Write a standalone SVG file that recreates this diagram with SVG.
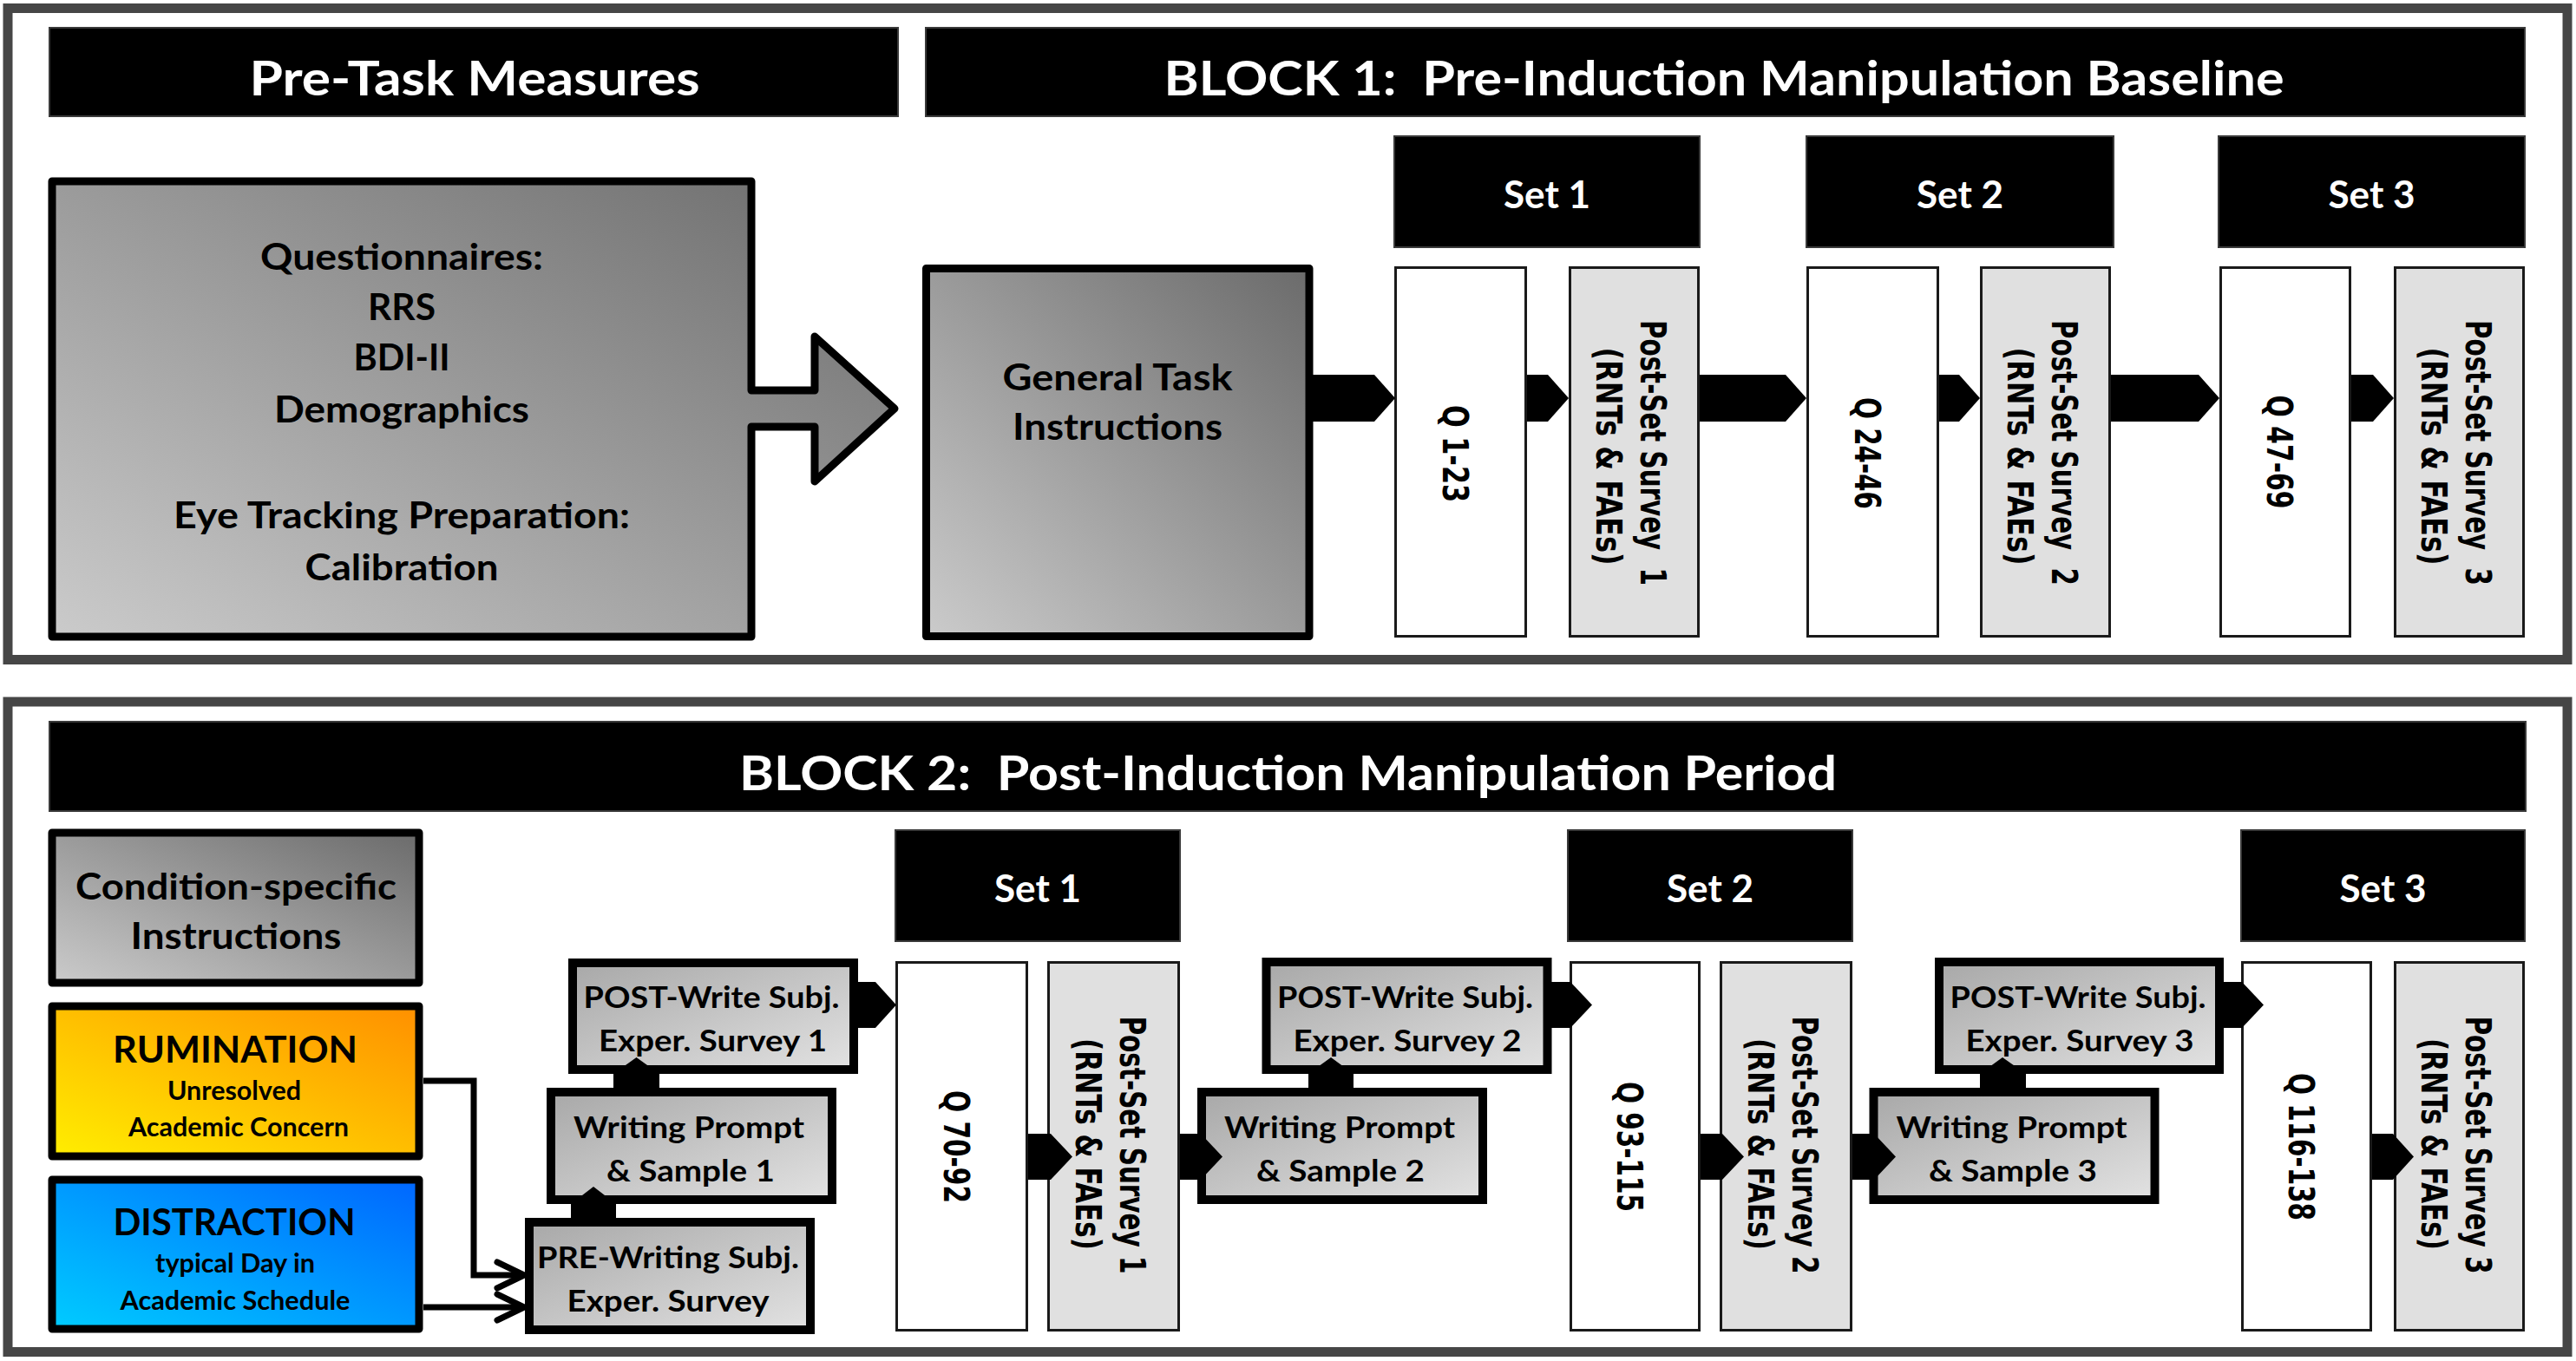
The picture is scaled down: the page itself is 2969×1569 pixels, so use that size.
<svg xmlns="http://www.w3.org/2000/svg" width="2969" height="1569" viewBox="0 0 2969 1569">
<defs>
<linearGradient id="gBig" x1="0" y1="1" x2="1" y2="0"><stop offset="0" stop-color="#cbcbcb"/><stop offset="1" stop-color="#6b6b6b"/></linearGradient>
<linearGradient id="gProc" x1="0" y1="0" x2="1" y2="1"><stop offset="0" stop-color="#a8a8a8"/><stop offset="1" stop-color="#e2e2e2"/></linearGradient>
<linearGradient id="gRum" x1="0" y1="1" x2="1" y2="0"><stop offset="0" stop-color="#ffee00"/><stop offset="1" stop-color="#ff8f00"/></linearGradient>
<linearGradient id="gDis" x1="0" y1="1" x2="1" y2="0"><stop offset="0" stop-color="#00ccff"/><stop offset="1" stop-color="#0066ff"/></linearGradient>
<marker id="chev" markerUnits="userSpaceOnUse" markerWidth="40" markerHeight="40" refX="31" refY="17" orient="auto" overflow="visible">
<path d="M0,2 L31,17 L0,32" fill="none" stroke="#000" stroke-width="7" stroke-linecap="round" stroke-linejoin="round"/>
</marker>
</defs>
<style>
.frame{fill:#fff;stroke:#464646;stroke-width:11}
.banner{fill:#000;stroke:#3a3a3a;stroke-width:2}
.bt{font-family:Lato,"Open Sans","Liberation Sans",sans-serif;font-weight:700;fill:#fff;text-anchor:middle}
.t{font-family:Lato,"Open Sans","Liberation Sans",sans-serif;font-weight:700;fill:#000;text-anchor:middle}
.big{stroke:#000;stroke-width:9;stroke-linejoin:round}
.proc{fill:url(#gProc);stroke:#000;stroke-width:10}
.q{fill:#fff;stroke:#1a1a1a;stroke-width:3}
.ps{fill:#e0e0e0;stroke:#1a1a1a;stroke-width:3}
.rt{font-family:"DejaVu Sans",Verdana,sans-serif;font-weight:700;font-size:41px;fill:#000;text-anchor:middle}
.blk{fill:#000}
.ln{fill:none;stroke:#000;stroke-width:7;stroke-linejoin:miter}
</style>
<rect width="2969" height="1569" fill="#fff"/>
<g id="frames">
<rect class="frame" x="9" y="9.5" width="2950" height="751"/>
<rect class="frame" x="9" y="809" width="2950" height="749.5"/>
</g>
<g id="banners">
<g id="pretask-banner"><rect class="banner" x="57" y="32" width="978" height="102"/><text class="bt" x="547" y="110" font-size="55" textLength="519" lengthAdjust="spacingAndGlyphs">Pre-Task Measures</text></g>
<g id="block1-banner"><rect class="banner" x="1067" y="32" width="1843" height="102"/><text class="bt" x="1987" y="110" font-size="55" textLength="1291" lengthAdjust="spacingAndGlyphs" xml:space="preserve">BLOCK 1:  Pre-Induction Manipulation Baseline</text></g>
<g id="block2-banner"><rect class="banner" x="57" y="832" width="2854" height="103"/><text class="bt" x="1484.5" y="911" font-size="55" textLength="1265" lengthAdjust="spacingAndGlyphs" xml:space="preserve">BLOCK 2:  Post-Induction Manipulation Period</text></g>
<g id="b1-set1"><rect class="banner" x="1607" y="157" width="352" height="128"/><text class="bt" x="1783" y="240" font-size="43" textLength="100" lengthAdjust="spacingAndGlyphs">Set 1</text></g>
<g id="b1-set2"><rect class="banner" x="2082" y="157" width="354" height="128"/><text class="bt" x="2259" y="240" font-size="43" textLength="100" lengthAdjust="spacingAndGlyphs">Set 2</text></g>
<g id="b1-set3"><rect class="banner" x="2557" y="157" width="353" height="128"/><text class="bt" x="2733.5" y="240" font-size="43" textLength="100" lengthAdjust="spacingAndGlyphs">Set 3</text></g>
<g id="b2-set1"><rect class="banner" x="1032" y="957" width="328" height="128"/><text class="bt" x="1196" y="1040" font-size="43" textLength="100" lengthAdjust="spacingAndGlyphs">Set 1</text></g>
<g id="b2-set2"><rect class="banner" x="1807" y="957" width="328" height="128"/><text class="bt" x="1971" y="1040" font-size="43" textLength="100" lengthAdjust="spacingAndGlyphs">Set 2</text></g>
<g id="b2-set3"><rect class="banner" x="2583" y="957" width="327" height="128"/><text class="bt" x="2746.5" y="1040" font-size="43" textLength="100" lengthAdjust="spacingAndGlyphs">Set 3</text></g>
</g>
<g id="pretask">
<path class="big" fill="url(#gBig)" d="M60,209 H866 V450 H939 V388 L1031,471 L939,555 V492 H866 V734 H60 Z"/>
<text class="t" x="463" y="311" font-size="42" textLength="326" lengthAdjust="spacingAndGlyphs">Questionnaires:</text>
<text class="t" x="463" y="369" font-size="42" textLength="78" lengthAdjust="spacingAndGlyphs">RRS</text>
<text class="t" x="463" y="427" font-size="42" textLength="111" lengthAdjust="spacingAndGlyphs">BDI-II</text>
<text class="t" x="463" y="487" font-size="42" textLength="294" lengthAdjust="spacingAndGlyphs">Demographics</text>
<text class="t" x="463" y="609" font-size="42" textLength="526" lengthAdjust="spacingAndGlyphs">Eye Tracking Preparation:</text>
<text class="t" x="463" y="669" font-size="42" textLength="223" lengthAdjust="spacingAndGlyphs">Calibration</text>
</g>
<g id="general">
<rect class="big" fill="url(#gBig)" x="1067.5" y="309.5" width="441.5" height="424"/>
<text class="t" x="1288" y="450" font-size="42" textLength="265" lengthAdjust="spacingAndGlyphs">General Task</text>
<text class="t" x="1288" y="507" font-size="42" textLength="242" lengthAdjust="spacingAndGlyphs">Instructions</text>
</g>
<g id="b1-q1"><rect class="q" x="1608.5" y="308.5" width="150" height="425"/><text class="rt" transform="translate(1662.5,523) rotate(90)" textLength="112" lengthAdjust="spacingAndGlyphs">Q 1-23</text></g>
<g id="b1-ps1"><rect class="ps" x="1809.5" y="308.5" width="148" height="425"/><text class="rt" transform="translate(1890.5,522) rotate(90)" textLength="306" lengthAdjust="spacingAndGlyphs" xml:space="preserve">Post-Set Survey  1</text><text class="rt" transform="translate(1839.5,526) rotate(90)" textLength="251" lengthAdjust="spacingAndGlyphs">(RNTs &amp; FAEs)</text></g>
<g id="b1-q2"><rect class="q" x="2083.5" y="308.5" width="150" height="425"/><text class="rt" transform="translate(2137.5,522.5) rotate(90)" textLength="129" lengthAdjust="spacingAndGlyphs">Q 24-46</text></g>
<g id="b1-ps2"><rect class="ps" x="2283.5" y="308.5" width="148" height="425"/><text class="rt" transform="translate(2364.5,522) rotate(90)" textLength="306" lengthAdjust="spacingAndGlyphs" xml:space="preserve">Post-Set Survey  2</text><text class="rt" transform="translate(2313.5,526) rotate(90)" textLength="251" lengthAdjust="spacingAndGlyphs">(RNTs &amp; FAEs)</text></g>
<g id="b1-q3"><rect class="q" x="2559.5" y="308.5" width="149" height="425"/><text class="rt" transform="translate(2613,521) rotate(90)" textLength="131" lengthAdjust="spacingAndGlyphs">Q 47-69</text></g>
<g id="b1-ps3"><rect class="ps" x="2760.5" y="308.5" width="148" height="425"/><text class="rt" transform="translate(2841.5,522) rotate(90)" textLength="306" lengthAdjust="spacingAndGlyphs" xml:space="preserve">Post-Set Survey  3</text><text class="rt" transform="translate(2790.5,526) rotate(90)" textLength="251" lengthAdjust="spacingAndGlyphs">(RNTs &amp; FAEs)</text></g>
<g id="condition">
<rect class="big" fill="url(#gBig)" x="60" y="960" width="423" height="173"/>
<text class="t" x="272" y="1037" font-size="42" textLength="370" lengthAdjust="spacingAndGlyphs">Condition-specific</text>
<text class="t" x="272" y="1094" font-size="42" textLength="243" lengthAdjust="spacingAndGlyphs">Instructions</text>
</g>
<g id="rumination">
<rect class="big" fill="url(#gRum)" x="60" y="1160" width="423" height="173"/>
<text class="t" x="271" y="1225" font-size="42" textLength="282" lengthAdjust="spacingAndGlyphs">RUMINATION</text>
<text class="t" x="270" y="1268" font-size="30" textLength="154" lengthAdjust="spacingAndGlyphs">Unresolved</text>
<text class="t" x="275" y="1310" font-size="30" textLength="254" lengthAdjust="spacingAndGlyphs">Academic Concern</text>
</g>
<g id="distraction">
<rect class="big" fill="url(#gDis)" x="60" y="1360" width="423" height="172"/>
<text class="t" x="270" y="1424" font-size="42" textLength="279" lengthAdjust="spacingAndGlyphs">DISTRACTION</text>
<text class="t" x="271" y="1467" font-size="30" textLength="184" lengthAdjust="spacingAndGlyphs">typical Day in</text>
<text class="t" x="271" y="1510" font-size="30" textLength="265" lengthAdjust="spacingAndGlyphs">Academic Schedule</text>
</g>
<g id="pre-writing"><rect class="proc" x="610" y="1409" width="324" height="124"/><text class="t" x="770" y="1462" font-size="35" textLength="302" lengthAdjust="spacingAndGlyphs">PRE-Writing Subj.</text><text class="t" x="770" y="1512" font-size="35" textLength="233" lengthAdjust="spacingAndGlyphs">Exper. Survey</text></g>
<g id="writing1"><rect class="proc" x="635" y="1259" width="324" height="124"/><text class="t" x="794" y="1312" font-size="35" textLength="266" lengthAdjust="spacingAndGlyphs">Writing Prompt</text><text class="t" x="796" y="1362" font-size="35" textLength="194" lengthAdjust="spacingAndGlyphs">&amp; Sample 1</text></g>
<g id="post1"><rect class="proc" x="660" y="1110" width="324" height="123"/><text class="t" x="820" y="1162" font-size="35" textLength="295" lengthAdjust="spacingAndGlyphs">POST-Write Subj.</text><text class="t" x="821.5" y="1212" font-size="35" textLength="263" lengthAdjust="spacingAndGlyphs">Exper. Survey 1</text></g>
<g id="writing2"><rect class="proc" x="1385" y="1259" width="324" height="124"/><text class="t" x="1544" y="1312" font-size="35" textLength="266" lengthAdjust="spacingAndGlyphs">Writing Prompt</text><text class="t" x="1545" y="1362" font-size="35" textLength="194" lengthAdjust="spacingAndGlyphs">&amp; Sample 2</text></g>
<g id="post2"><rect class="proc" x="1459.5" y="1109" width="324" height="124"/><text class="t" x="1619.5" y="1162" font-size="35" textLength="295" lengthAdjust="spacingAndGlyphs">POST-Write Subj.</text><text class="t" x="1622" y="1212" font-size="35" textLength="263" lengthAdjust="spacingAndGlyphs">Exper. Survey 2</text></g>
<g id="writing3"><rect class="proc" x="2159.5" y="1259" width="324" height="124"/><text class="t" x="2318.5" y="1312" font-size="35" textLength="266" lengthAdjust="spacingAndGlyphs">Writing Prompt</text><text class="t" x="2320" y="1362" font-size="35" textLength="194" lengthAdjust="spacingAndGlyphs">&amp; Sample 3</text></g>
<g id="post3"><rect class="proc" x="2235" y="1109" width="323" height="124"/><text class="t" x="2395" y="1162" font-size="35" textLength="295" lengthAdjust="spacingAndGlyphs">POST-Write Subj.</text><text class="t" x="2397" y="1212" font-size="35" textLength="263" lengthAdjust="spacingAndGlyphs">Exper. Survey 3</text></g>
<g id="b2-q1"><rect class="q" x="1033.5" y="1109.5" width="150" height="424"/><text class="rt" transform="translate(1087.5,1322) rotate(90)" textLength="130" lengthAdjust="spacingAndGlyphs">Q 70-92</text></g>
<g id="b2-ps1"><rect class="ps" x="1208.5" y="1109.5" width="150" height="424"/><text class="rt" transform="translate(1290.5,1320) rotate(90)" textLength="297" lengthAdjust="spacingAndGlyphs">Post-Set Survey 1</text><text class="rt" transform="translate(1239.5,1319) rotate(90)" textLength="244" lengthAdjust="spacingAndGlyphs">(RNTs &amp; FAEs)</text></g>
<g id="b2-q2"><rect class="q" x="1810.5" y="1109.5" width="148" height="424"/><text class="rt" transform="translate(1863.5,1322) rotate(90)" textLength="150" lengthAdjust="spacingAndGlyphs">Q 93-115</text></g>
<g id="b2-ps2"><rect class="ps" x="1983.5" y="1109.5" width="150" height="424"/><text class="rt" transform="translate(2065.5,1320) rotate(90)" textLength="297" lengthAdjust="spacingAndGlyphs">Post-Set Survey 2</text><text class="rt" transform="translate(2014.5,1319) rotate(90)" textLength="244" lengthAdjust="spacingAndGlyphs">(RNTs &amp; FAEs)</text></g>
<g id="b2-q3"><rect class="q" x="2584.5" y="1109.5" width="148" height="424"/><text class="rt" transform="translate(2637.5,1322) rotate(90)" textLength="170" lengthAdjust="spacingAndGlyphs">Q 116-138</text></g>
<g id="b2-ps3"><rect class="ps" x="2760.5" y="1109.5" width="148" height="424"/><text class="rt" transform="translate(2841.5,1320) rotate(90)" textLength="297" lengthAdjust="spacingAndGlyphs">Post-Set Survey 3</text><text class="rt" transform="translate(2790.5,1319) rotate(90)" textLength="244" lengthAdjust="spacingAndGlyphs">(RNTs &amp; FAEs)</text></g>
<g id="connectors">
<polygon class="blk" points="1509,432 1584,432 1608,459 1584,486 1509,486"/>
<polygon class="blk" points="1760,432 1784,432 1808,459 1784,486 1760,486"/>
<polygon class="blk" points="1959,432 2058,432 2082,459 2058,486 1959,486"/>
<polygon class="blk" points="2235,432 2258,432 2282,459 2258,486 2235,486"/>
<polygon class="blk" points="2433,432 2534,432 2558,459 2534,486 2433,486"/>
<polygon class="blk" points="2710,432 2735,432 2759,459 2735,486 2710,486"/>
<polygon class="blk" points="984,1132 1009,1132 1033,1158.5 1009,1185 984,1185"/>
<polygon class="blk" points="1784,1132 1810,1132 1835,1158.5 1810,1185 1784,1185"/>
<polygon class="blk" points="2558,1132 2584,1132 2609,1158.5 2584,1185 2558,1185"/>
<polygon class="blk" points="1185,1307 1211,1307 1236,1333.5 1211,1360 1185,1360"/>
<polygon class="blk" points="1360,1307 1384,1307 1409,1333.5 1384,1360 1360,1360"/>
<polygon class="blk" points="1960,1307 1985,1307 2010,1333.5 1985,1360 1960,1360"/>
<polygon class="blk" points="2135,1307 2160,1307 2185,1333.5 2160,1360 2135,1360"/>
<polygon class="blk" points="2734,1307 2758,1307 2782,1333.5 2758,1360 2734,1360"/>
<polygon class="blk" points="658,1409 658,1388 684,1368 710,1388 710,1409"/>
<polygon class="blk" points="707,1259 707,1238 733.5,1219 760,1238 760,1259"/>
<polygon class="blk" points="1508,1259 1508,1238 1534,1219 1560,1238 1560,1259"/>
<polygon class="blk" points="2282,1259 2282,1238 2308,1219 2335,1238 2335,1259"/>
<path class="ln" d="M488,1246 H546 V1470 H604" marker-end="url(#chev)"/>
<path class="ln" d="M488,1507 H604" marker-end="url(#chev)"/>
</g>
</svg>
